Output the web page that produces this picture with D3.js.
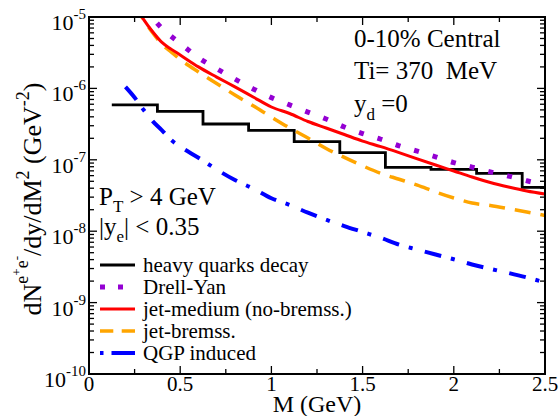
<!DOCTYPE html>
<html><head><meta charset="utf-8">
<script src="https://cdn.jsdelivr.net/npm/d3@7"></script>
</head><body style="margin:0;background:#fff">
<svg id="chart" width="559" height="416"></svg>
<script>
// ---------- data ----------
const xTickValues = [0, 0.5, 1, 1.5, 2, 2.5];
const xTickLabels = ["0", "0.5", "1", "1.5", "2", "2.5"];
const yTickExponents = [-5, -6, -7, -8, -9, -10];

// heavy quarks decay (histogram)
const hqEdges = [0.125, 0.375, 0.625, 0.875, 1.125, 1.375, 1.625, 1.875, 2.125, 2.375, 2.5];
const hqValues = [5.86e-7, 4.77e-7, 3.17e-7, 2.59e-7, 1.80e-7, 1.26e-7, 7.85e-8, 7.36e-8, 6.47e-8, 4.12e-8];

// Drell-Yan
const dyMass = [0.3, 0.35, 0.4, 0.5, 0.6, 0.7, 0.8, 0.9, 1.0, 1.1, 1.2, 1.3, 1.4, 1.5, 1.6, 1.7, 1.8, 1.9, 2.0, 2.1, 2.2, 2.3, 2.4, 2.5];
const dyValues = [1.29e-5, 9.53e-6, 6.93e-6, 4.27e-6, 2.69e-6, 1.89e-6, 1.35e-6, 9.84e-7, 7.43e-7, 5.87e-7, 4.66e-7, 3.73e-7, 2.88e-7, 2.33e-7, 1.94e-7, 1.57e-7, 1.32e-7, 1.10e-7, 9.14e-8, 7.91e-8, 6.77e-8, 5.92e-8, 5.08e-8, 4.47e-8];

// jet-medium (no-bremss.) and jet-bremss.
const jetMass = [0.25, 0.3, 0.35, 0.4, 0.45, 0.5, 0.6, 0.7, 0.8, 0.9, 1.0, 1.1, 1.2, 1.3, 1.4, 1.5, 1.6, 1.7, 1.8, 1.9, 2.0, 2.1, 2.2, 2.3, 2.4, 2.5];
const jetMediumValues = [1.47e-5, 9.2e-6, 6.16e-6, 4.40e-6, 3.55e-6, 2.94e-6, 2.00e-6, 1.44e-6, 1.05e-6, 7.59e-7, 5.49e-7, 4.45e-7, 3.44e-7, 2.79e-7, 2.26e-7, 1.83e-7, 1.53e-7, 1.26e-7, 1.03e-7, 8.45e-8, 6.97e-8, 5.74e-8, 4.81e-8, 4.16e-8, 3.66e-8, 3.32e-8];
const jetBremssValues = [1.47e-5, 9.08e-6, 5.97e-6, 4.16e-6, 3.24e-6, 2.54e-6, 1.70e-6, 1.17e-6, 8.09e-7, 5.71e-7, 3.97e-7, 2.79e-7, 2.02e-7, 1.44e-7, 1.08e-7, 8.24e-8, 6.45e-8, 5.34e-8, 4.41e-8, 3.55e-8, 2.92e-8, 2.48e-8, 2.29e-8, 2.07e-8, 1.86e-8, 1.66e-8];

// QGP induced
const qgpMass = [0.2, 0.25, 0.3, 0.35, 0.4, 0.45, 0.5, 0.6, 0.7, 0.8, 0.9, 1.0, 1.1, 1.2, 1.3, 1.4, 1.5, 1.6, 1.7, 1.8, 1.9, 2.0, 2.1, 2.2, 2.3, 2.4, 2.5];
const qgpValues = [1.05e-6, 7.46e-7, 4.98e-7, 3.46e-7, 2.59e-7, 1.90e-7, 1.53e-7, 1.07e-7, 7.31e-8, 5.21e-8, 3.96e-8, 2.89e-8, 2.33e-8, 1.82e-8, 1.45e-8, 1.18e-8, 9.75e-9, 8.05e-9, 6.48e-9, 5.53e-9, 4.72e-9, 4.04e-9, 3.42e-9, 2.97e-9, 2.60e-9, 2.25e-9, 1.91e-9];

const legendLabels = ["heavy quarks decay", "Drell-Yan", "jet-medium (no-bremss.)", "jet-bremss.", "QGP induced"];

// ---------- layout ----------
const FONT = "'Liberation Serif'";
const L = 89, R = 545, T = 17, B = 374;
const svg = d3.select("#chart");
const x = d3.scaleLinear().domain([0, 2.5]).range([L, R]);
const y = d3.scaleLog().domain([1e-10, 1e-5]).range([B, T]);

function txt(parent, size) {
  return parent.append("text").style("font-family", FONT).attr("font-size", size).attr("fill", "#000");
}

const styles = {
  hq: {color: "#000000", width: 2.8, dash: null, legDash: null},
  dy: {color: "#9400D3", width: 5, dash: "5,14.3", legDash: "5,13"},
  jm: {color: "#FF0000", width: 3, dash: null, legDash: null},
  jb: {color: "#FFA500", width: 3.5, dash: "16,10", legDash: "13.3,8.4"},
  qgp: {color: "#0000FF", width: 4, dash: "17,10,4,12.6", legDash: "3.5,8,24,10"}
};

svg.append("defs").append("clipPath").attr("id", "clip")
  .append("rect").attr("x", L).attr("y", T).attr("width", R - L).attr("height", B - T);

const plot = svg.append("g").attr("clip-path", "url(#clip)");

// ticks
const majorLen = 8, minorLen = 5;
const xMinor = d3.range(0, 2.5001, 0.25);
const tickG = svg.append("g").attr("stroke", "#000").attr("stroke-width", 1.3);
xMinor.forEach(v => {
  const isMajor = Math.abs(v / 0.5 - Math.round(v / 0.5)) < 1e-6;
  const len = isMajor ? majorLen : minorLen;
  tickG.append("line").attr("x1", x(v)).attr("x2", x(v)).attr("y1", B).attr("y2", B - len);
  tickG.append("line").attr("x1", x(v)).attr("x2", x(v)).attr("y1", T).attr("y2", T + len);
});
const yAll = y.ticks(50);
yAll.forEach(v => {
  const e = Math.log10(v);
  const isMajor = Math.abs(e - Math.round(e)) < 1e-6;
  const len = isMajor ? majorLen : minorLen;
  tickG.append("line").attr("x1", L).attr("x2", L + len).attr("y1", y(v)).attr("y2", y(v));
  tickG.append("line").attr("x1", R).attr("x2", R - len).attr("y1", y(v)).attr("y2", y(v));
});

// frame
svg.append("rect").attr("x", L).attr("y", T).attr("width", R - L).attr("height", B - T)
  .attr("fill", "none").attr("stroke", "#000").attr("stroke-width", 2);

// x tick labels
xTickValues.forEach((v, i) => {
  txt(svg, 21).attr("x", x(v)).attr("y", B + 17).attr("text-anchor", "middle").text(xTickLabels[i]);
});
// y tick labels
yTickExponents.forEach(e => {
  const t = txt(svg, 22).attr("x", 86).attr("y", y(Math.pow(10, e)) + 13).attr("text-anchor", "end");
  t.append("tspan").text("10");
  t.append("tspan").attr("dy", -11).attr("font-size", 15).text(String(e));
});

// axis titles
txt(svg, 24).attr("x", x(1.25)).attr("y", 412).attr("text-anchor", "middle").text("M (GeV)");

const yt = txt(svg, 26).attr("transform", "translate(41,199) rotate(-90)").attr("text-anchor", "middle");
yt.append("tspan").text("dN");
yt.append("tspan").attr("dy", -13).attr("font-size", 18).text("e");
yt.append("tspan").attr("dy", -7).attr("font-size", 13).text("+");
yt.append("tspan").attr("dy", 7).attr("font-size", 18).text("e");
yt.append("tspan").attr("dy", -7).attr("font-size", 13).text("-");
yt.append("tspan").attr("dy", 20).text("/dy/dM");
yt.append("tspan").attr("dy", -12).attr("font-size", 18).text("2");
yt.append("tspan").attr("dy", 12).text(" (GeV");
yt.append("tspan").attr("dy", -12).attr("font-size", 18).text("-2");
yt.append("tspan").attr("dy", 12).text(")");

// ---------- series ----------
const line = d3.line().x(d => x(d[0])).y(d => y(d[1])).curve(d3.curveMonotoneX);
function drawSeries(mass, vals, st) {
  plot.append("path").datum(mass.map((m, i) => [m, vals[i]]))
    .attr("d", line).attr("fill", "none")
    .attr("stroke", st.color).attr("stroke-width", st.width)
    .attr("stroke-dasharray", st.dash).attr("stroke-linecap", "butt");
}
// histogram
const hqPts = [];
hqValues.forEach((v, i) => { hqPts.push([hqEdges[i], v]); hqPts.push([hqEdges[i + 1], v]); });
plot.append("path").datum(hqPts)
  .attr("d", d3.line().x(d => x(d[0])).y(d => y(d[1])))
  .attr("fill", "none").attr("stroke", styles.hq.color).attr("stroke-width", styles.hq.width);

drawSeries(qgpMass, qgpValues, styles.qgp);
drawSeries(jetMass, jetBremssValues, styles.jb);
drawSeries(dyMass, dyValues, styles.dy);
drawSeries(jetMass, jetMediumValues, styles.jm);

// ---------- annotations ----------
txt(svg, 25).attr("x", 354).attr("y", 47).text("0-10% Central");
txt(svg, 25).attr("x", 354).attr("y", 79).attr("xml:space", "preserve").text("Ti= 370  MeV");
const yd = txt(svg, 25).attr("x", 354).attr("y", 112);
yd.append("tspan").text("y");
yd.append("tspan").attr("dy", 8).attr("font-size", 17).text("d");
yd.append("tspan").attr("dy", -8).text(" =0");

const pt = txt(svg, 25).attr("x", 99).attr("y", 205);
pt.append("tspan").text("P");
pt.append("tspan").attr("dy", 7).attr("font-size", 17).text("T");
pt.append("tspan").attr("dy", -7).text(" > 4 GeV");
const ye = txt(svg, 25).attr("x", 99).attr("y", 235);
ye.append("tspan").text("|y");
ye.append("tspan").attr("dy", 7).attr("font-size", 17).text("e");
ye.append("tspan").attr("dy", -7).text("| < 0.35");

// ---------- legend ----------
const legKeys = ["hq", "dy", "jm", "jb", "qgp"];
const legY0 = 265, legDy = 22;
legKeys.forEach((k, i) => {
  const st = styles[k];
  const yy = legY0 + i * legDy;
  svg.append("line").attr("x1", 100).attr("x2", 135).attr("y1", yy).attr("y2", yy)
    .attr("stroke", st.color).attr("stroke-width", st.width)
    .attr("stroke-dasharray", st.legDash);
  txt(svg, 21).attr("x", 143).attr("y", yy + 7).text(legendLabels[i]);
});
</script>
</body></html>
